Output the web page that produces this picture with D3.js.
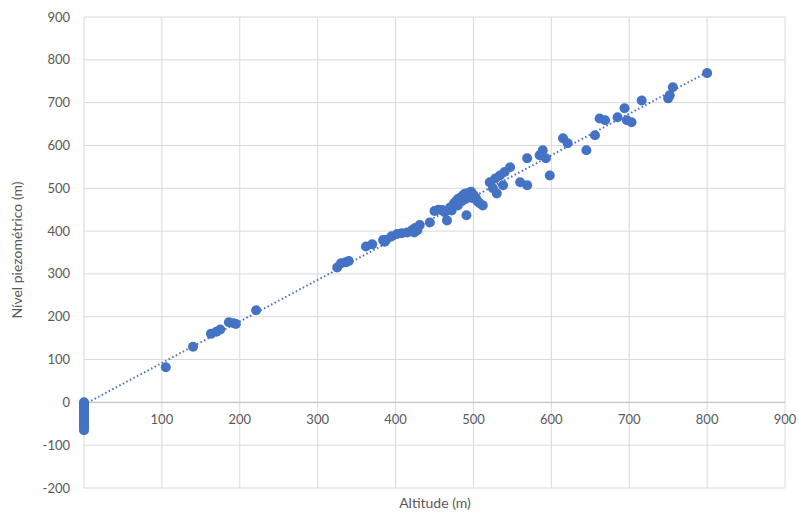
<!DOCTYPE html>
<html>
<head>
<meta charset="utf-8">
<script src="https://cdn.jsdelivr.net/npm/d3@7"></script>
<style>
  html, body { margin: 0; padding: 0; background: #ffffff; }
  svg { display: block; }
  text { font-family: Lato, "Open Sans", "Liberation Sans", sans-serif; fill: #595959; }
</style>
</head>
<body>
<svg id="chart" width="799" height="513"></svg>
<script>
// ---- data ----
const altitude = [
  0, 0, 0, 0, 0, 0, 0, 0, 0, 0, 0, 0, 0, 0, 0, 0,
  105, 140, 163, 170, 175, 186, 192, 195, 221,
  325, 330, 336, 340, 362, 370, 384, 388, 386,
  395, 402, 408, 415, 421, 425, 431, 424, 428, 444,
  450, 455, 460, 463, 466, 472,
  470, 475, 478, 480, 483, 486, 488, 490, 492, 495, 497, 500, 503, 505, 508, 512,
  485, 480, 490, 491, 499,
  521, 528, 534, 540, 547, 530, 538, 525, 560, 569, 569, 585, 593, 589, 598,
  615, 621, 645, 656, 662, 669, 685, 694, 703, 697, 716, 750, 752, 756, 800
];
const nivel = [
  0, -4, -8, -12, -16, -20, -24, -28, -32, -36, -40, -45, -50, -55, -60, -65,
  82, 130, 160, 165, 170, 187, 185, 183, 215,
  315, 325, 327, 330, 364, 369, 379, 380, 375,
  388, 393, 395, 397, 402, 407, 414, 397, 402, 420,
  447, 450, 449, 444, 425, 448,
  455, 465, 470, 475, 478, 482, 486, 488, 484, 490, 492, 485, 478, 470, 465, 460,
  470, 460, 475, 437, 477,
  514, 523, 530, 538, 549, 488, 507, 500, 514, 507, 570, 577, 570, 589, 530,
  617, 605, 589, 624, 663, 659, 666, 687, 654, 659, 705, 710, 717, 736, 769
];
const trendX = [0, 800];
const trendY = [-5, 771];
const xTicks = [100, 200, 300, 400, 500, 600, 700, 800, 900];
const yTicks = [-200, -100, 0, 100, 200, 300, 400, 500, 600, 700, 800, 900];
const xGrid = [0, 100, 200, 300, 400, 500, 600, 700, 800, 900];

// ---- layout ----
const svg = d3.select("#chart");
const plotL = 84, plotR = 785, plotT = 17, plotB = 488;
const x = d3.scaleLinear().domain([0, 900]).range([plotL, plotR]);
const y = d3.scaleLinear().domain([-200, 900]).range([plotB, plotT]);
const blue = "#4472C4";

// gridlines
svg.append("g").selectAll("line").data(yTicks).join("line")
  .attr("x1", plotL).attr("x2", plotR)
  .attr("y1", d => y(d)).attr("y2", d => y(d))
  .attr("stroke", "#D9D9D9").attr("stroke-width", 1);
svg.append("g").selectAll("line").data(xGrid).join("line")
  .attr("x1", d => x(d)).attr("x2", d => x(d))
  .attr("y1", plotT).attr("y2", plotB)
  .attr("stroke", "#D9D9D9").attr("stroke-width", 1);

// horizontal axis line at y = 0
svg.append("line")
  .attr("x1", plotL).attr("x2", plotR)
  .attr("y1", y(0)).attr("y2", y(0))
  .attr("stroke", "#BFBFBF").attr("stroke-width", 1);

// y tick labels
svg.append("g").selectAll("text").data(yTicks).join("text")
  .attr("x", 70).attr("y", d => y(d)).attr("dy", "0.35em")
  .attr("text-anchor", "end").attr("font-size", 13)
  .text(d => d);

// x tick labels (next to the axis at y = 0)
svg.append("g").selectAll("text").data(xTicks).join("text")
  .attr("x", d => x(d)).attr("y", y(0) + 22)
  .attr("text-anchor", "middle").attr("font-size", 13)
  .text(d => d);

// axis titles
svg.append("text")
  .attr("x", 435).attr("y", 508)
  .attr("text-anchor", "middle").attr("font-size", 14)
  .text("Altitude (m)");
svg.append("text")
  .attr("transform", "translate(22," + 250 + ") rotate(-90)")
  .attr("text-anchor", "middle").attr("font-size", 14)
  .text("Nível piezométrico (m)");

// trend line
svg.append("line")
  .attr("x1", x(trendX[0])).attr("y1", y(trendY[0]))
  .attr("x2", x(trendX[1])).attr("y2", y(trendY[1]))
  .attr("stroke", blue).attr("stroke-width", 2)
  .attr("stroke-dasharray", "1.5,2.5");

// points
const pts = altitude.map((a, i) => [a, nivel[i]]);
svg.append("g").selectAll("circle").data(pts).join("circle")
  .attr("cx", d => x(d[0])).attr("cy", d => y(d[1]))
  .attr("r", 5)
  .attr("fill", blue);
</script>
</body>
</html>
